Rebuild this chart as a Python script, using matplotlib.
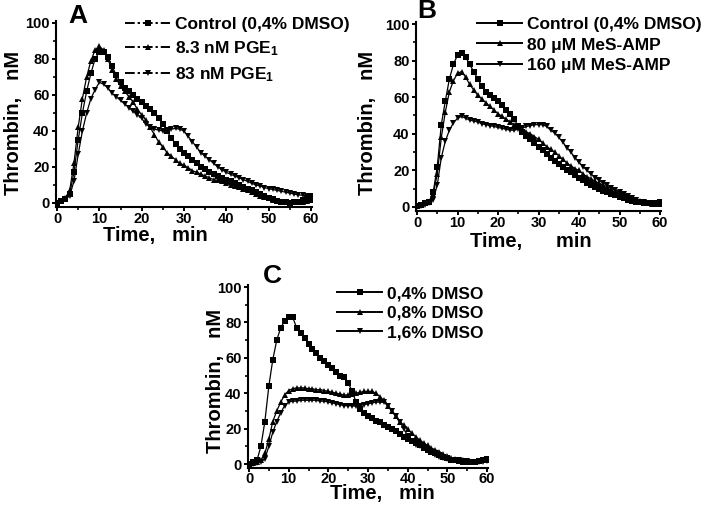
import numpy as np
import matplotlib
matplotlib.use("Agg")
import matplotlib.pyplot as plt
from matplotlib.lines import Line2D
from matplotlib.ticker import MultipleLocator

plt.rcParams["font.family"] = ["Liberation Sans", "DejaVu Sans"]
plt.rcParams["font.weight"] = "bold"
plt.rcParams["mathtext.fontset"] = "custom"
plt.rcParams["mathtext.rm"] = "Liberation Sans:bold"
plt.rcParams["mathtext.default"] = "rm"

# time axis, one point per minute
time_min = np.arange(61)

# Panel A - PGE1
a_control = [0, 1, 2, 5, 17, 35, 50, 62, 72, 80,
             84, 84, 81, 76, 71, 67, 64, 62, 60, 58,
             56, 54, 52, 50, 47, 44, 40, 36, 33, 30,
             28, 26, 24, 22, 20, 19, 17, 16, 15, 14,
             13, 12, 11, 10, 9, 8, 7, 6, 5, 4,
             3, 2, 1.2, 0.6, 0.3, 0.2, 0.4, 0.8, 1.5, 2.2,
             3]
a_pge_8 = [0, 1, 3, 7, 22, 42, 58, 70, 79, 85,
           87, 85, 80, 74, 69, 65, 62, 59, 56, 52,
           49, 46, 42, 38, 34, 31, 28, 26, 24, 22,
           21, 19.5, 18, 17, 16, 15, 14, 13, 12.5, 12,
           11, 10, 9.5, 9, 8, 7, 6, 5, 4, 3.3,
           2.5, 1.8, 1, 0.6, 0.3, 0.2, 0.3, 0.5, 0.8, 1.2,
           1.5]
a_pge_83 = [0, 1, 2, 4, 12, 27, 40, 50, 58, 63,
            67, 66, 64, 61, 59, 57, 55, 53, 51, 49,
            47, 44, 42, 41, 40.5, 40, 40.5, 41, 41.5, 41,
            40, 37, 34, 31, 28, 26, 24, 22, 20, 18.5,
            17, 16, 15, 14, 13, 12, 11, 10, 9.5, 8.5,
            8, 7.5, 7, 6.5, 6, 5.5, 5, 4.5, 4.3, 4,
            3.8]

# Panel B - MeS-AMP
b_control = [0.5, 1, 2, 3, 8, 22, 45, 58, 70, 78,
             83, 84, 82, 78, 74, 70, 66, 63, 61, 59.5,
             58, 56, 53, 51, 48, 44, 41, 39, 37, 35,
             33, 31, 29, 27, 25, 23.5, 22, 20.2, 19, 17.5,
             16, 14.5, 13, 12, 11, 10, 9, 8, 7, 6.3,
             5.5, 4.8, 4, 3.5, 3, 2.6, 2.2, 2, 2, 2.2,
             2.5]
b_mes_80 = [0.3, 1, 2, 3, 7, 18, 38, 52, 63, 69,
            73, 74, 71, 67, 64, 61, 59, 57, 55, 53,
            51, 49.5, 48, 46.5, 45, 43.5, 42.5, 41, 40, 38.5,
            37, 35, 33, 31.5, 30, 28, 26, 24, 22.5, 21,
            20, 18, 16.5, 15.5, 14, 13, 12, 11, 10, 9,
            8, 7, 6, 5, 4, 3.2, 2.5, 2, 1.8, 1.7,
            1.7]
b_mes_160 = [0, 0.5, 1, 2, 4, 12, 27, 36, 42, 46,
             48.5, 49.5, 48.5, 47.5, 47, 46.5, 45.5, 45, 44.5, 44,
             43.5, 43, 42.5, 42, 42, 42.5, 43, 44, 44.5, 45,
             45, 45, 44, 42, 40.5, 38, 35.5, 32.5, 30, 27,
             24.5, 22, 20, 18, 16, 14.5, 13, 12, 10.5, 9.5,
             8, 7, 6, 5, 4, 3, 2.5, 2, 2, 2,
             1.5]

# Panel C - DMSO
c_dmso_04 = [0, 1, 2, 10, 24, 44, 59, 70, 77, 81,
             83, 83, 77, 74, 71, 68, 65, 62.5, 60, 58,
             56, 54, 52, 50, 49, 46, 41, 35, 31, 29,
             27, 26, 24.5, 23.5, 22, 21, 19.5, 18.5, 17, 15.5,
             14, 13, 12, 10.5, 9, 8, 7, 6, 5, 4,
             3.2, 2.5, 2, 1.5, 1.2, 1, 1, 1.2, 1.5, 2.2,
             3]
c_dmso_08 = [0, 0.5, 1, 2, 6, 14, 24, 30, 35, 39,
             41.5, 42.5, 43, 43, 43, 42.5, 42.5, 42, 42, 41.5,
             41, 40.5, 40, 39.5, 39, 39, 39.5, 40, 40.5, 41,
             41, 41, 40, 38, 36, 33, 30, 27, 24, 22,
             19.5, 17.5, 15.5, 13.5, 12, 10.5, 9, 8, 7, 5.5,
             4.5, 3.5, 3, 2.5, 2, 1.5, 1.3, 1.3, 1.5, 2,
             2.5]
c_dmso_16 = [0, 0, 0.5, 1, 3, 10, 18, 24, 29, 33,
             35, 35.5, 35.5, 36, 36, 36, 36, 36, 35.5, 35.5,
             35, 34.5, 34, 33.5, 33, 33, 33, 32.5, 33, 33.5,
             34, 34.5, 35, 35, 35, 33, 30, 27, 24, 20,
             16, 13, 11, 10, 9, 8, 6.5, 5, 4, 3.5,
             3, 2.5, 2.2, 2, 1.8, 1.5, 1.3, 1.2, 1.2, 1.3,
             1.5]

labels_a = ["Control (0,4% DMSO)", "8.3 nM PGE$_1$", "83 nM PGE$_1$"]
labels_b = ["Control (0,4% DMSO)", "80 \u03bcM MeS-AMP", "160 \u03bcM MeS-AMP"]
labels_c = ["0,4% DMSO", "0,8% DMSO", "1,6% DMSO"]
markers = ["s", "^", "v"]

W, H = 706, 505
XLIM = (-0.3, 60.3)
YLIM = (-2, 101)


def rect(x0, x60, y0, y100):
    # axes rectangle from pixel positions of x=0, x=60, y=0, y=100
    sx = (x60 - x0) / 60.0
    sy = (y0 - y100) / 100.0
    left = x0 + XLIM[0] * sx
    right = x0 + XLIM[1] * sx
    bottom = y0 - YLIM[0] * sy
    top = y0 - YLIM[1] * sy
    return [left / W, 1 - bottom / H, (right - left) / W, (bottom - top) / H]


def fx(px):
    return px / W


def fy(py):
    return 1 - py / H


fig = plt.figure(figsize=(7.06, 5.05), dpi=100)

panels = [
    dict(rect=rect(57, 311, 203, 23), series=[a_control, a_pge_8, a_pge_83],
         labels=labels_a, letter="A", letter_xy=(78, 16),
         xlabel="Time,   min", xlab_xy=(155, 235), ylab_xy=(14, 123),
         leg_xy=(125, 17), spacing=0.42, dashed=True, xpad=1),
    dict(rect=rect(417, 660, 207, 24), series=[b_control, b_mes_80, b_mes_160],
         labels=labels_b, letter="B", letter_xy=(427, 11),
         xlabel="Time,      min", xlab_xy=(531, 241), ylab_xy=(368, 123),
         leg_xy=(477, 17), spacing=0.3, dashed=False, xpad=1),
    dict(rect=rect(249, 487, 464, 287), series=[c_dmso_04, c_dmso_08, c_dmso_16],
         labels=labels_c, letter="C", letter_xy=(272, 276),
         xlabel="Time,   min", xlab_xy=(382, 494), ylab_xy=(215, 381),
         leg_xy=(337, 286), spacing=0.25, dashed=False, xpad=0),
]

for p in panels:
    ax = fig.add_axes(p["rect"])
    for vals, m in zip(p["series"], markers):
        ax.plot(time_min, vals, color="black", lw=0.9, marker=m,
                markersize=4.2, markerfacecolor="black", markeredgewidth=0)
    ax.set_xlim(*XLIM)
    ax.set_ylim(*YLIM)
    ax.xaxis.set_major_locator(MultipleLocator(10))
    ax.xaxis.set_minor_locator(MultipleLocator(5))
    ax.yaxis.set_major_locator(MultipleLocator(20))
    ax.yaxis.set_minor_locator(MultipleLocator(10))
    ax.tick_params(which="major", direction="out", length=3, width=1.4,
                   labelsize=10.5, pad=1.5)
    ax.tick_params(axis="x", which="major", pad=p["xpad"])
    ax.tick_params(which="minor", direction="out", length=2, width=1.2)
    for s in ["top", "right"]:
        ax.spines[s].set_visible(False)
    for s in ["left", "bottom"]:
        ax.spines[s].set_linewidth(1.5)

    ax.set_xlabel(p["xlabel"], fontsize=14.5, fontweight="bold")
    ax.set_ylabel("Thrombin,   nM", fontsize=14.5, fontweight="bold")
    ax.xaxis.set_label_coords(fx(p["xlab_xy"][0]), fy(p["xlab_xy"][1]),
                              transform=fig.transFigure)
    ax.yaxis.set_label_coords(fx(p["ylab_xy"][0]), fy(p["ylab_xy"][1]),
                              transform=fig.transFigure)
    ax.xaxis.label.set_va("center")
    ax.yaxis.label.set_va("center")

    fig.text(fx(p["letter_xy"][0]), fy(p["letter_xy"][1]), p["letter"],
             fontsize=19, fontweight="bold", ha="center", va="center")

    ls = (0, (5, 1.5, 1.2, 1.5)) if p["dashed"] else "-"
    handles = [Line2D([], [], color="black", lw=1.4, ls=ls, marker=m,
                      markersize=4.5, markeredgewidth=0) for m in markers]
    ax.legend(handles, p["labels"], loc="upper left",
              bbox_to_anchor=(fx(p["leg_xy"][0]), fy(p["leg_xy"][1])),
              bbox_transform=fig.transFigure, frameon=False, borderpad=0,
              borderaxespad=0, handlelength=2.6, handletextpad=0.3,
              labelspacing=p["spacing"], prop={"size": 12.5, "weight": "bold"})

fig.savefig("out.png", dpi=100)
